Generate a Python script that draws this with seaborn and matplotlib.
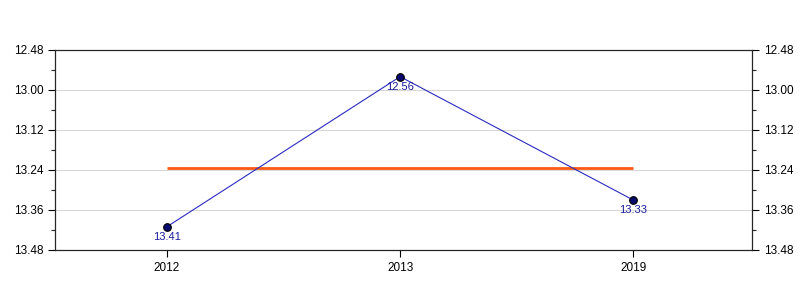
import matplotlib
matplotlib.use("Agg")
import matplotlib.pyplot as plt
import seaborn as sns
import pandas as pd
import numpy as np
from matplotlib.ticker import FixedLocator, AutoMinorLocator

years = ["2012", "2013", "2019"]
values = [13.41, 12.96, 13.33]
point_labels = ["13.41", "12.56", "13.33"]
avg_value = 13.235
ytick_values = [12.88, 13.00, 13.12, 13.24, 13.36, 13.48]
ytick_labels = ["12.48", "13.00", "13.12", "13.24", "13.36", "13.48"]

sns.set_style("white")
plt.rcParams['font.family'] = ['Liberation Sans', 'DejaVu Sans']

df = pd.DataFrame({"year": years, "value": values})
fig = plt.figure(figsize=(8, 3), dpi=100)
ax = fig.add_axes([0.069, 0.1667, 0.871, 0.6667])

xpos = np.arange(len(years))
df["x"] = xpos
sns.lineplot(data=df, x="x", y="value", ax=ax, color="#2b2bc0", linewidth=0.8,
             marker="o", markersize=5.5, markerfacecolor="#0a0a6e",
             markeredgecolor="black", markeredgewidth=0.8, zorder=4)
ax.hlines(avg_value, xpos[0], xpos[-1], color="#ff5a14", linewidth=2, zorder=3)

for x, v, lab in zip(xpos, values, point_labels):
    ax.annotate(lab, (x, v), xytext=(0, -3.5), textcoords="offset points",
                ha="center", va="top", fontsize=8, color="#1c1c9c", zorder=5)

ax.set_xlim(-0.48, 2.51)
ax.set_ylim(13.48, 12.88)
ax.set_xticks(xpos)
ax.set_xticklabels(years)
ax.yaxis.set_major_locator(FixedLocator(ytick_values))
ax.set_yticklabels(ytick_labels)
ax.yaxis.set_minor_locator(AutoMinorLocator(2))
ax.set_xlabel("")
ax.set_ylabel("")
ax.grid(axis="y", color="#d8d8d8", linewidth=0.8)
ax.set_axisbelow(True)
for s in ax.spines.values():
    s.set_color("black")
    s.set_linewidth(0.8)
ax.tick_params(axis="both", which="major", direction="out", length=5, width=0.8,
               labelsize=8.5, colors="black", left=True, bottom=True)
ax.tick_params(axis="y", which="minor", direction="out", length=3, width=0.8, left=True)

ax2 = ax.twinx()
ax2.set_ylim(ax.get_ylim())
ax2.yaxis.set_major_locator(FixedLocator(ytick_values))
ax2.set_yticklabels(ytick_labels)
ax2.yaxis.set_minor_locator(AutoMinorLocator(2))
ax2.tick_params(axis="y", which="major", direction="out", length=5, width=0.8,
                labelsize=8.5, colors="black", right=True)
ax2.tick_params(axis="y", which="minor", direction="out", length=3, width=0.8, right=True)
for s in ax2.spines.values():
    s.set_linewidth(0.8)

fig.savefig("out.png", dpi=100)
